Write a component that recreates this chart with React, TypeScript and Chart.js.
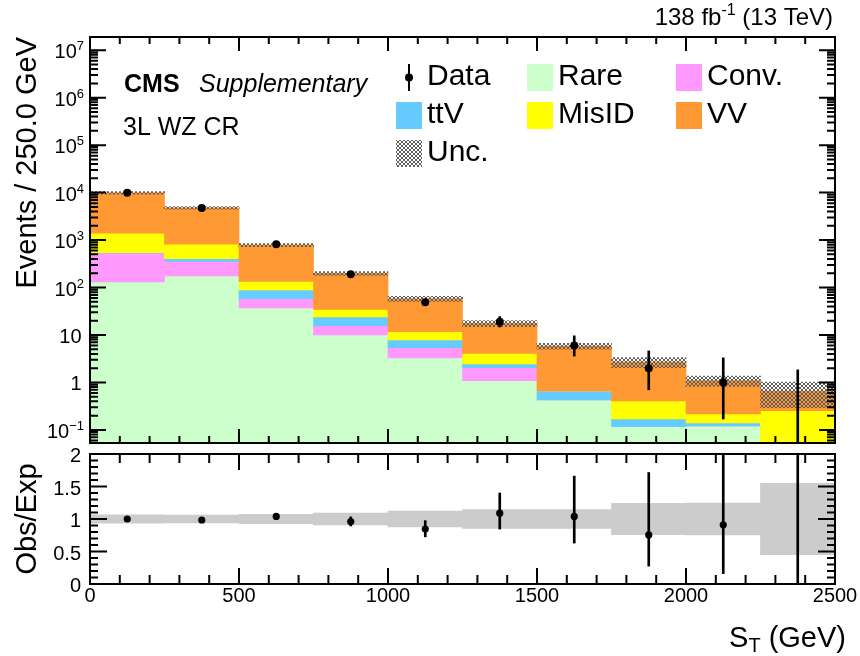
import React, { useEffect, useRef } from "react";
import { Chart, registerables } from "chart.js";

Chart.register(...registerables);

// ---------------- data ----------------
const binEdges = [0, 250, 500, 750, 1000, 1250, 1500, 1750, 2000, 2250, 2500];

// background components, bottom of the stack first
const rare = [132, 175, 37, 10, 3.28, 1.09, 0.43, 0.117, 0.121, 0];
const conv = [400, 180, 21, 5.7, 2.12, 0.96, 0, 0, 0, 0];
const ttv = [8, 49, 30.6, 8.2, 2.45, 0.4, 0.23, 0.053, 0.019, 0];
const misid = [860, 420, 46.4, 10.8, 3.85, 1.65, 0, 0.24, 0.077, 0.255];
const vv = [8500, 3966, 650, 164, 46.3, 13.5, 5.2, 2.29, 0.88, 0.4];

// relative total uncertainty of the prediction
const relUnc = [0.065, 0.06, 0.07, 0.09, 0.12, 0.146, 0.145, 0.24, 0.245, 0.55];

// observed data
const dataCounts = [9900, 4720, 815, 191, 49, 19, 6, 2, 1, 0];
const dataErrUp = [100, 69, 29, 14.3, 8.0, 5.4, 3.6, 2.6, 2.3, 1.84];
const dataErrDown = [99, 68, 28, 13.3, 7.0, 4.3, 2.4, 1.3, 0.83, 0];

// ratio panel
const ratioVals = [1.0, 0.985, 1.04, 0.96, 0.845, 1.09, 1.04, 0.755, 0.91, 0];
const ratioErrUp = [0.01, 0.015, 0.035, 0.072, 0.13, 0.31, 0.62, 0.96, 2.1, 2.8];
const ratioErrDown = [0.01, 0.015, 0.035, 0.067, 0.12, 0.245, 0.41, 0.48, 0.75, 0];

// axes
const xMajorTicks = [0, 500, 1000, 1500, 2000, 2500];
const xMinorStep = 100;
const logDecades = [-1, 0, 1, 2, 3, 4, 5, 6, 7];
const ratioTicks = [0, 0.5, 1, 1.5, 2];
const ratioMinorStep = 0.1;

const FONT = '"Liberation Sans", Arial, Helvetica, sans-serif';
const LOG_FLOOR = 1e-3;

const stackLayers = [
  { label: "Rare", values: rare, color: "#ccffcc" },
  { label: "Conv.", values: conv, color: "#ff99ff" },
  { label: "ttV", values: ttv, color: "#66ccff" },
  { label: "MisID", values: misid, color: "#ffff00" },
  { label: "VV", values: vv, color: "#ff9933" },
];

const colorOf = (label: string) => {
  const l = stackLayers.find((s) => s.label === label);
  return l ? l.color : "#000";
};

const legendRows = [
  ["Data", "Rare", "Conv."],
  ["ttV", "MisID", "VV"],
  ["Unc."],
];

const centers = binEdges.slice(0, -1).map((e, i) => (e + binEdges[i + 1]) / 2);

function makeHatch(): CanvasPattern {
  const c = document.createElement("canvas");
  c.width = 4;
  c.height = 4;
  const g = c.getContext("2d")!;
  g.fillStyle = "#5e5e5e";
  for (let i = 0; i < 4; i++) {
    g.fillRect(i, i, 1, 1);
    g.fillRect(3 - i, i, 1, 1);
  }
  return g.createPattern(c, "repeat")!;
}

function text(ctx: CanvasRenderingContext2D, s: string, x: number, y: number, size: number, align: CanvasTextAlign = "left", style = "") {
  ctx.font = `${style} ${size}px ${FONT}`.trim();
  ctx.textAlign = align;
  ctx.textBaseline = "alphabetic";
  ctx.fillStyle = "#000";
  ctx.fillText(s, x, y);
}

function width(ctx: CanvasRenderingContext2D, s: string, size: number, style = "") {
  ctx.font = `${style} ${size}px ${FONT}`.trim();
  return ctx.measureText(s).width;
}

function drawXTicks(ctx: CanvasRenderingContext2D, xs: any, a: any, majLen: number, minLen: number) {
  const n = Math.round((xs.max - xs.min) / xMinorStep);
  for (let i = 1; i < n; i++) {
    const v = xs.min + i * xMinorStep;
    const px = xs.getPixelForValue(v);
    const len = xMajorTicks.includes(v) ? majLen : minLen;
    ctx.moveTo(px, a.bottom);
    ctx.lineTo(px, a.bottom - len);
    ctx.moveTo(px, a.top);
    ctx.lineTo(px, a.top + len);
  }
}

const topAxesPlugin = (hatch: CanvasPattern) => ({
  id: "topAxes",
  afterDraw(chart: any) {
    const ctx: CanvasRenderingContext2D = chart.ctx;
    const a = chart.chartArea;
    const xs = chart.scales.x;
    const ys = chart.scales.y;
    ctx.save();
    ctx.strokeStyle = "#000";
    ctx.lineWidth = 2;
    ctx.beginPath();
    drawXTicks(ctx, xs, a, 14, 7);
    for (let k = logDecades[0] - 1; k <= logDecades[logDecades.length - 1] + 1; k++) {
      for (let m = 1; m <= 9; m++) {
        const v = m * Math.pow(10, k);
        if (v <= ys.min || v >= ys.max) continue;
        const py = ys.getPixelForValue(v);
        const len = m === 1 ? 16 : 8;
        ctx.moveTo(a.left, py);
        ctx.lineTo(a.left + len, py);
        ctx.moveTo(a.right, py);
        ctx.lineTo(a.right - len, py);
      }
    }
    ctx.stroke();
    ctx.strokeRect(a.left, a.top, a.right - a.left, a.bottom - a.top);

    // y tick labels
    for (const k of logDecades) {
      const py = ys.getPixelForValue(Math.pow(10, k));
      if (k === 0 || k === 1) {
        text(ctx, k === 0 ? "1" : "10", a.left - 8.5, py + 8, 20, "right");
      } else {
        const sup = k < 0 ? "\u2212" + -k : String(k);
        const xr = a.left - 6;
        const sw = width(ctx, sup, 13);
        text(ctx, sup, xr, py, 13, "right");
        text(ctx, "10", xr - sw, py + 8, 20, "right");
      }
    }

    // y title
    ctx.save();
    ctx.translate(a.left - 54, a.top);
    ctx.rotate(-Math.PI / 2);
    text(ctx, "Events / 250.0 GeV", 0, 0, 29, "right");
    ctx.restore();

    // luminosity label
    const lumiY = a.top - 12;
    let xr = a.right - 2;
    const p3 = " (13 TeV)";
    const w3 = width(ctx, p3, 24);
    text(ctx, p3, xr, lumiY, 24, "right");
    xr -= w3;
    const sup = "-1";
    const w2 = width(ctx, sup, 16);
    text(ctx, sup, xr, lumiY - 10, 16, "right");
    xr -= w2;
    text(ctx, "138 fb", xr, lumiY, 24, "right");

    // CMS labels
    text(ctx, "CMS", a.left + 34, a.top + 55, 25, "left", "bold");
    text(ctx, "Supplementary", a.left + 109, a.top + 55, 25, "left", "italic");
    text(ctx, "3L WZ CR", a.left + 33, a.top + 98, 25, "left");

    // legend
    const colX = [396, 527, 676];
    const rowTop = 64;
    const rowStep = 38;
    const bw = 26;
    const bh = 27;
    legendRows.forEach((row, ri) => {
      row.forEach((label, ci) => {
        const bx = colX[ci];
        const by = rowTop + ri * rowStep;
        if (label === "Data") {
          const cx = bx + bw / 2;
          const cy = by + bh / 2;
          ctx.beginPath();
          ctx.moveTo(cx, by);
          ctx.lineTo(cx, by + bh);
          ctx.stroke();
          ctx.beginPath();
          ctx.arc(cx, cy, 4, 0, Math.PI * 2);
          ctx.fillStyle = "#000";
          ctx.fill();
        } else if (label === "Unc.") {
          ctx.fillStyle = hatch;
          ctx.fillRect(bx, by, bw, bh);
        } else {
          ctx.fillStyle = colorOf(label);
          ctx.fillRect(bx, by, bw, bh);
        }
        text(ctx, label, bx + 31, by + 21, 30, "left");
      });
    });
    ctx.restore();
  },
});

const ratioAxesPlugin = {
  id: "ratioAxes",
  afterDraw(chart: any) {
    const ctx: CanvasRenderingContext2D = chart.ctx;
    const a = chart.chartArea;
    const xs = chart.scales.x;
    const ys = chart.scales.y;
    ctx.save();
    ctx.strokeStyle = "#000";
    ctx.lineWidth = 2;
    ctx.beginPath();
    drawXTicks(ctx, xs, a, 16, 9);
    const n = Math.round((ys.max - ys.min) / ratioMinorStep);
    for (let i = 1; i < n; i++) {
      const v = ys.min + i * ratioMinorStep;
      const py = ys.getPixelForValue(v);
      const len = i % 5 === 0 ? 17 : 8;
      ctx.moveTo(a.left, py);
      ctx.lineTo(a.left + len, py);
      ctx.moveTo(a.right, py);
      ctx.lineTo(a.right - len, py);
    }
    ctx.stroke();
    ctx.strokeRect(a.left, a.top, a.right - a.left, a.bottom - a.top);

    for (const v of ratioTicks) {
      text(ctx, String(v), a.left - 9, ys.getPixelForValue(v) + 8, 20, "right");
    }
    for (const v of xMajorTicks) {
      text(ctx, String(v), xs.getPixelForValue(v), a.bottom + 18, 20, "center");
    }

    // x title  S_T (GeV)
    const xEnd = a.right + 11;
    const ty = a.bottom + 63;
    const t3 = " (GeV)";
    const w3 = width(ctx, t3, 29);
    const w2 = width(ctx, "T", 20);
    text(ctx, t3, xEnd, ty, 29, "right");
    text(ctx, "T", xEnd - w3, ty + 5, 20, "right");
    text(ctx, "S", xEnd - w3 - w2, ty, 29, "right");

    // y title
    ctx.save();
    ctx.translate(a.left - 54, (a.top + a.bottom) / 2);
    ctx.rotate(-Math.PI / 2);
    text(ctx, "Obs/Exp", 0, 0, 29, "center");
    ctx.restore();
    ctx.restore();
  },
};

function topConfig(hatch: CanvasPattern): any {
  const running = centers.map(() => 0);
  const layerSets = stackLayers.map((layer, li) => ({
    type: "bar",
    label: layer.label,
    data: centers.map((x, i) => {
      const lo = running[i];
      const hi = lo + layer.values[i];
      running[i] = hi;
      return { x, y: [Math.max(lo, LOG_FLOOR), Math.max(hi, LOG_FLOOR)] };
    }),
    backgroundColor: layer.color,
    order: 10 - li,
  }));
  const totals = running;
  const uncSet = {
    type: "bar",
    label: "Unc.",
    data: centers.map((x, i) => ({ x, y: [totals[i] * (1 - relUnc[i]), totals[i] * (1 + relUnc[i])] })),
    backgroundColor: hatch,
    order: 2,
  };
  const errSet = {
    type: "bar",
    label: "Data errors",
    data: centers.map((x, i) => ({
      x,
      y: [Math.max(dataCounts[i] - dataErrDown[i], LOG_FLOOR), dataCounts[i] + dataErrUp[i]],
    })),
    backgroundColor: "#000",
    barThickness: 2,
    order: 1,
  };
  const pointSet = {
    type: "line",
    label: "Data",
    data: centers.map((x, i) => ({ x, y: dataCounts[i] > 0 ? dataCounts[i] : null })),
    showLine: false,
    pointRadius: 4,
    pointHoverRadius: 4,
    pointBackgroundColor: "#000",
    pointBorderColor: "#000",
    pointBorderWidth: 0,
    order: 0,
  };
  return {
    type: "bar",
    data: { datasets: [pointSet, errSet, uncSet, ...layerSets] },
    options: {
      animation: false,
      responsive: false,
      devicePixelRatio: 1,
      layout: { padding: { left: 90, top: 37, right: 25, bottom: 5 } },
      plugins: { legend: { display: false }, tooltip: { enabled: false } },
      datasets: { bar: { grouped: false, barPercentage: 1, categoryPercentage: 1, borderWidth: 0 } },
      scales: {
        x: { type: "linear", min: binEdges[0], max: binEdges[binEdges.length - 1], offset: false, display: false, ticks: { stepSize: 500 } },
        y: { type: "logarithmic", min: 0.053, max: 1.9e7, display: false },
      },
    },
    plugins: [topAxesPlugin(hatch)],
  };
}

function ratioConfig(): any {
  const bandSet = {
    type: "bar",
    label: "Unc.",
    data: centers.map((x, i) => ({ x, y: [1 - relUnc[i], 1 + relUnc[i]] })),
    backgroundColor: "#cccccc",
    order: 2,
  };
  const errSet = {
    type: "bar",
    label: "Ratio errors",
    data: centers.map((x, i) => ({ x, y: [ratioVals[i] - ratioErrDown[i], ratioVals[i] + ratioErrUp[i]] })),
    backgroundColor: "#000",
    barThickness: 2,
    order: 1,
  };
  const pointSet = {
    type: "line",
    label: "Obs/Exp",
    data: centers.map((x, i) => ({ x, y: dataCounts[i] > 0 ? ratioVals[i] : null })),
    showLine: false,
    pointRadius: 3.6,
    pointHoverRadius: 3.6,
    pointBackgroundColor: "#000",
    pointBorderColor: "#000",
    pointBorderWidth: 0,
    order: 0,
  };
  return {
    type: "bar",
    data: { datasets: [pointSet, errSet, bandSet] },
    options: {
      animation: false,
      responsive: false,
      devicePixelRatio: 1,
      layout: { padding: { left: 90, top: 6, right: 25, bottom: 72 } },
      plugins: { legend: { display: false }, tooltip: { enabled: false } },
      datasets: { bar: { grouped: false, barPercentage: 1, categoryPercentage: 1, borderWidth: 0 } },
      scales: {
        x: { type: "linear", min: binEdges[0], max: binEdges[binEdges.length - 1], offset: false, display: false, ticks: { stepSize: 500 } },
        y: { type: "linear", min: ratioTicks[0], max: ratioTicks[ratioTicks.length - 1], display: false },
      },
    },
    plugins: [ratioAxesPlugin],
  };
}

export default function App() {
  const topRef = useRef<HTMLCanvasElement>(null);
  const botRef = useRef<HTMLCanvasElement>(null);

  useEffect(() => {
    const hatch = makeHatch();
    const top = new Chart(topRef.current as HTMLCanvasElement, topConfig(hatch));
    const bot = new Chart(botRef.current as HTMLCanvasElement, ratioConfig());
    return () => {
      top.destroy();
      bot.destroy();
    };
  }, []);

  return (
    <div style={{ position: "absolute", left: 0, top: 0, width: 860, height: 656, background: "#fff" }}>
      <canvas
        ref={topRef}
        width={860}
        height={448}
        style={{ position: "absolute", left: 0, top: 0, width: 860, height: 448 }}
      />
      <canvas
        ref={botRef}
        width={860}
        height={208}
        style={{ position: "absolute", left: 0, top: 448, width: 860, height: 208 }}
      />
    </div>
  );
}
